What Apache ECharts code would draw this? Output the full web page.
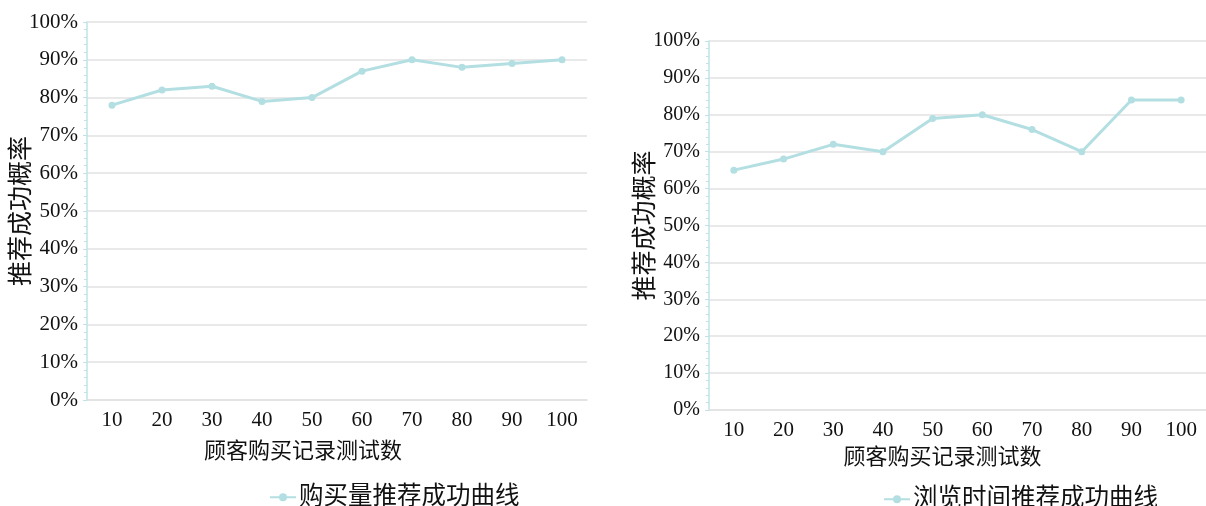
<!DOCTYPE html>
<html>
<head>
<meta charset="utf-8">
<script src="https://cdn.jsdelivr.net/npm/echarts@6/dist/echarts.min.js"></script>
<style>
  html, body { margin: 0; padding: 0; background: #fff; }
  #chart { width: 1206px; height: 506px; }
</style>
</head>
<body>
<div id="chart"></div>
<script>
// Test counts shared by both panels
const categories = ['10', '20', '30', '40', '50', '60', '70', '80', '90', '100'];
// Success rate (%) of purchase-volume based recommendation
const purchaseRates = [78, 82, 83, 79, 80, 87, 90, 88, 89, 90];
// Success rate (%) of browsing-time based recommendation
const browseRates = [65, 68, 72, 70, 79, 80, 76, 70, 84, 84];
const seriesNames = ['购买量推荐成功曲线', '浏览时间推荐成功曲线'];
const xTitle = '顾客购买记录测试数';
const yTitle = '推荐成功概率';

const FONT = '"Liberation Serif", "DejaVu Serif", "Noto Sans CJK SC", serif';
const LINE_COLOR = '#b3dfe2';
const AXIS_COLOR = '#bfe3e6';

function yAxisFor(gridIndex, labelSize, gap) {
  return {
    type: 'value',
    gridIndex: gridIndex,
    min: 0,
    max: 100,
    interval: 10,
    name: yTitle,
    nameLocation: 'middle',
    nameRotate: 90,
    nameGap: gap,
    nameMoveOverlap: false,
    nameTextStyle: { fontFamily: FONT, fontSize: 25, color: '#111' },
    axisLine: { show: true, lineStyle: { color: AXIS_COLOR, width: 1.5 } },
    axisTick: { show: true, length: 4, lineStyle: { color: AXIS_COLOR } },
    minorTick: { show: true, splitNumber: 5, length: 3, lineStyle: { color: AXIS_COLOR } },
    axisLabel: {
      formatter: '{value}%',
      fontFamily: FONT,
      fontSize: labelSize,
      color: '#111',
      margin: 9
    },
    splitLine: { show: true, lineStyle: { color: '#e2e2e2', width: 1.5 } }
  };
}

function xAxisFor(gridIndex, shift, gap) {
  return {
    type: 'category',
    gridIndex: gridIndex,
    data: categories,
    boundaryGap: true,
    name: xTitle,
    nameLocation: 'middle',
    nameGap: gap,
    nameMoveOverlap: false,
    nameTextStyle: {
      fontFamily: FONT, fontSize: 22, color: '#111',
      padding: [0, shift, 0, 0]
    },
    axisLine: { show: true, lineStyle: { color: '#e2e2e2', width: 1.5 } },
    axisTick: { show: false },
    axisLabel: { fontFamily: FONT, fontSize: 21, color: '#111', margin: 10 },
    splitLine: { show: false }
  };
}

function lineSeries(name, data, idx) {
  return {
    name: name,
    type: 'line',
    xAxisIndex: idx,
    yAxisIndex: idx,
    data: data,
    symbol: 'circle',
    symbolSize: 7,
    lineStyle: { color: LINE_COLOR, width: 3 },
    itemStyle: { color: LINE_COLOR },
    emphasis: { disabled: true }
  };
}

const legendBase = {
  orient: 'horizontal',
  itemWidth: 26,
  itemHeight: 10,
  itemGap: 10,
  textStyle: { fontFamily: FONT, fontSize: 24.5, color: '#111', padding: [0, 0, 0, -2] }
};

const chart = echarts.init(document.getElementById('chart'), null, { renderer: 'canvas' });
chart.setOption({
  animation: false,
  backgroundColor: '#fff',
  grid: [
    { left: 87, top: 22, width: 500, height: 378 },
    { left: 709, top: 41, width: 497, height: 369 }
  ],
  xAxis: [xAxisFor(0, 68, 41), xAxisFor(1, 30, 37)],
  yAxis: [yAxisFor(0, 21, 52), yAxisFor(1, 20, 50)],
  legend: [
    Object.assign({}, legendBase, { data: [seriesNames[0]], left: 264, top: 480 }),
    Object.assign({}, legendBase, { data: [seriesNames[1]], left: 878, top: 482 })
  ],
  series: [
    lineSeries(seriesNames[0], purchaseRates, 0),
    lineSeries(seriesNames[1], browseRates, 1)
  ]
});
</script>
</body>
</html>
